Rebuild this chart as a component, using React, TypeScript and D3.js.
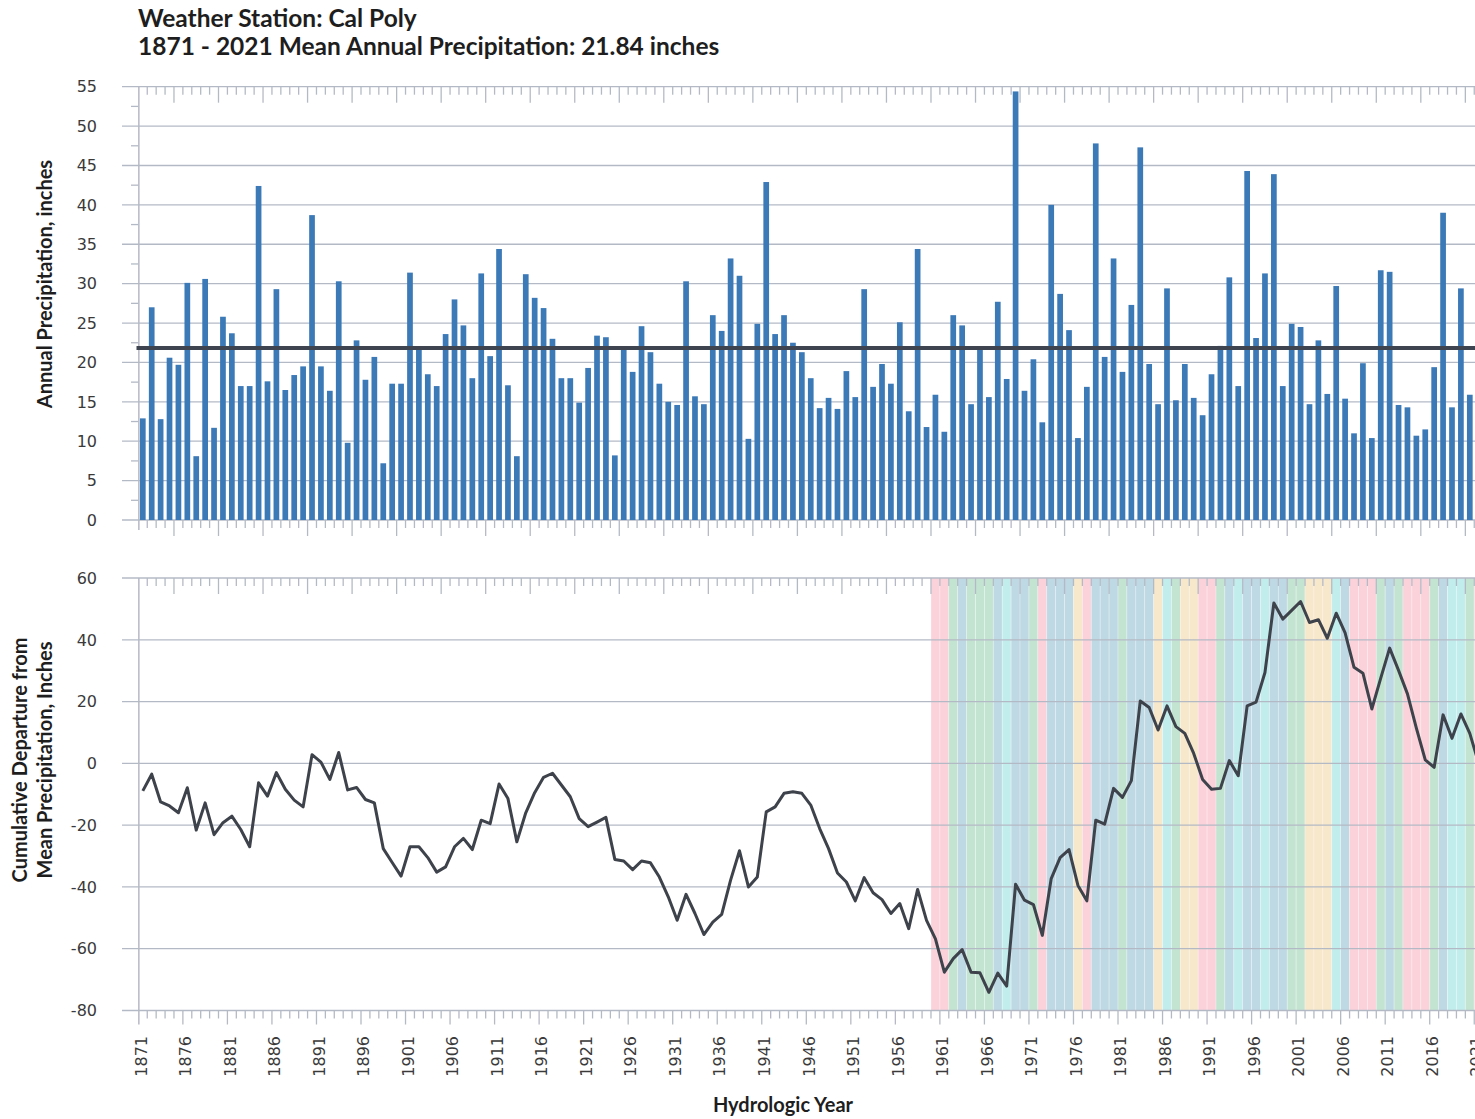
import React from 'react'
import * as d3 from 'd3'

// ===== data =====
const years: number[] = d3.range(1871, 2022)

// annual precipitation, inches (hydrologic year)
const precip: number[] = [
  12.9, 27.0, 12.8, 20.6, 19.7, 30.1, 8.1, 30.6, 11.7, 25.8,
  23.7, 17.0, 17.0, 42.4, 17.6, 29.3, 16.5, 18.4, 19.5, 38.7,
  19.5, 16.4, 30.3, 9.8, 22.8, 17.8, 20.7, 7.2, 17.3, 17.3,
  31.4, 21.8, 18.5, 17.0, 23.6, 28.0, 24.7, 18.0, 31.3, 20.8,
  34.4, 17.1, 8.1, 31.2, 28.2, 26.9, 23.0, 18.0, 18.0, 14.9,
  19.3, 23.4, 23.2, 8.2, 21.7, 18.8, 24.6, 21.3, 17.3, 15.0,
  14.6, 30.3, 15.7, 14.7, 26.0, 24.0, 33.2, 31.0, 10.3, 24.9,
  42.9, 23.6, 26.0, 22.5, 21.3, 18.0, 14.2, 15.5, 14.1, 18.9,
  15.6, 29.3, 16.9, 19.8, 17.3, 25.1, 13.8, 34.4, 11.8, 15.9,
  11.2, 26.0, 24.7, 14.7, 21.7, 15.6, 27.7, 17.9, 54.4, 16.4,
  20.4, 12.4, 40.0, 28.7, 24.1, 10.4, 16.9, 47.8, 20.7, 33.2,
  18.8, 27.3, 47.3, 19.8, 14.7, 29.4, 15.2, 19.8, 15.5, 13.3,
  18.5, 22.1, 30.8, 17.0, 44.3, 23.1, 31.3, 43.9, 17.0, 24.9,
  24.5, 14.7, 22.8, 16.0, 29.7, 15.4, 11.0, 19.9, 10.4, 31.7,
  31.5, 14.6, 14.3, 10.7, 11.5, 19.4, 39.0, 14.3, 29.4, 15.9,
  12.1,
]

// cumulative departure from mean, inches
const cumDeparture: number[] = [
  -8.9, -3.5, -12.5, -13.8, -16.0, -7.9, -21.6, -12.8, -23.1, -19.2,
  -17.1, -21.4, -27.0, -6.3, -10.6, -3.0, -8.4, -11.9, -14.1, 2.8,
  0.4, -5.2, 3.5, -8.6, -7.8, -11.7, -12.8, -27.6, -32.1, -36.5,
  -27.0, -27.0, -30.5, -35.2, -33.5, -27.0, -24.3, -27.9, -18.4, -19.5,
  -6.7, -11.4, -25.4, -16.0, -9.5, -4.5, -3.2, -7.0, -10.8, -17.9,
  -20.5, -19.0, -17.5, -31.1, -31.6, -34.4, -31.6, -32.2, -36.8, -43.2,
  -50.8, -42.4, -48.6, -55.4, -51.4, -48.9, -37.8, -28.3, -40.0, -36.8,
  -15.7, -14.1, -9.7, -9.2, -9.7, -13.5, -21.1, -27.6, -35.5, -38.4,
  -44.5, -37.0, -41.9, -44.1, -48.6, -45.4, -53.5, -40.8, -50.8, -56.8,
  -67.6, -63.2, -60.3, -67.6, -67.8, -74.1, -67.9, -72.1, -39.1, -44.3,
  -45.7, -55.7, -37.3, -30.5, -27.9, -39.5, -44.5, -18.4, -19.7, -8.1,
  -11.0, -5.6, 20.2, 18.1, 10.8, 18.6, 11.9, 9.7, 3.2, -5.2,
  -8.4, -8.1, 0.9, -4.0, 18.6, 19.8, 29.4, 51.9, 46.7, 49.5,
  52.4, 45.6, 46.5, 40.5, 48.6, 42.2, 31.1, 29.2, 17.6, 27.6,
  37.3, 30.1, 22.5, 11.4, 1.1, -1.3, 15.7, 8.1, 16.0, 9.7,
  0.0,
]

const meanPrecip = 21.84

// background classes from 1960 on
const bandStart = 1960
const bandClass: string[] = [
  'P', 'P', 'G', 'B', 'G', 'G', 'G', 'B', 'C', 'B',
  'B', 'G', 'P', 'B', 'B', 'B', 'Y', 'P', 'B', 'B',
  'B', 'G', 'B', 'B', 'B', 'Y', 'C', 'G', 'Y', 'Y',
  'P', 'P', 'G', 'B', 'C', 'B', 'B', 'C', 'B', 'B',
  'G', 'G', 'Y', 'Y', 'Y', 'C', 'B', 'P', 'P', 'P',
  'G', 'B', 'G', 'P', 'P', 'P', 'G', 'B', 'C', 'C',
  'G', 'P',
]
const bandColor: Record<string, string> = {
  P: '#fbd2da',
  G: '#c4e4d2',
  B: '#bed8e4',
  C: '#c2eded',
  Y: '#f7e7cb',
}

const topTicks = d3.range(0, 56, 5)
const bottomTicks = d3.range(-80, 61, 20)

// ===== layout =====
const W = 1475
const H = 1119
const X0 = 138.35
const STEP = 8.906
const X1 = X0 + STEP * years.length

const gridColor = '#b4bac5'
const labelFont = '"DejaVu Sans", Verdana, sans-serif'
const titleFont = 'Lato, "Open Sans", sans-serif'

export default function App() {
  const xStep = d3.scaleBand<number>().domain(years).range([X0, X1])
  const xBar = d3.scaleBand<number>().domain(years).range([X0, X1])
    .paddingInner(0.36).paddingOuter(0.18)
  const cx = (y: number) => (xStep(y) as number) + xStep.bandwidth() / 2

  const yTop = d3.scaleLinear().domain([0, 55]).range([520, 86.7])
  const yBot = d3.scaleLinear().domain([-80, 60]).range([1010.5, 578])

  const boundaries = years.map(y => xStep(y) as number).concat([X1])

  const line = d3.line<number>()
    .x((_, i) => cx(years[i]))
    .y(d => yBot(d))

  // ticks hanging down from a horizontal line
  const edgeTicks = (y0: number, majorMod: number, key: string, majorLen = 16) =>
    boundaries.map((bx, i) => i === 0 ? null : (
      <line key={key + i} x1={bx} x2={bx} y1={y0} y2={y0 + (i % 5 === majorMod ? majorLen : 8)}
        stroke={gridColor} strokeWidth={1.3} />
    ))

  return (
    <svg width={W} height={H} viewBox={`0 0 ${W} ${H}`}
      style={{ position: 'absolute', left: 0, top: 0, background: '#fff' }}>

      {/* titles */}
      <g fontFamily={titleFont} fontWeight={700} fill="#1e1e1e" fontSize={24.5}>
        <text x={138} y={27}>Weather Station: Cal Poly</text>
        <text x={138} y={55}>1871 - 2021 Mean Annual Precipitation: 21.84 inches</text>
      </g>

      {/* ===== top chart ===== */}
      <g>
        {topTicks.map(t => (
          <line key={'tg' + t} x1={122} x2={X1} y1={yTop(t)} y2={yTop(t)} stroke={gridColor} strokeWidth={1.3} />
        ))}
        {topTicks.slice(0, -1).map(t => (
          <line key={'tm' + t} x1={131} x2={X0} y1={yTop(t + 2.5)} y2={yTop(t + 2.5)} stroke={gridColor} strokeWidth={1.3} />
        ))}
        {edgeTicks(yTop(55), 4, 'tt')}
        {edgeTicks(yTop(0), 4, 'tb')}
        <line x1={X0 + 0.5} x2={X0 + 0.5} y1={yTop(55)} y2={yTop(0) + 10} stroke={gridColor} strokeWidth={1.5} />

        {years.map((y, i) => (
          <rect key={'b' + y} x={xBar(y)} width={xBar.bandwidth()}
            y={yTop(precip[i])} height={yTop(0) - yTop(precip[i])} fill="#3b79b7" />
        ))}
        <line x1={136.5} x2={X1} y1={yTop(meanPrecip)} y2={yTop(meanPrecip)} stroke="#3f4550" strokeWidth={4} />

        <g fontFamily={labelFont} fontSize={16} fill="#3a3a3a" textAnchor="end">
          {topTicks.map(t => (
            <text key={'tl' + t} x={97} y={yTop(t)} dy="0.36em">{t}</text>
          ))}
        </g>
        <text transform={`translate(52,284) rotate(-90)`} textAnchor="middle"
          fontFamily={titleFont} fontWeight={700} fontSize={20} fill="#1e1e1e">
          Annual Precipitation, inches
        </text>
      </g>

      {/* ===== bottom chart ===== */}
      <g>
        {years.map(y => {
          if (y < bandStart) return null
          const c = bandClass[y - bandStart]
          return (
            <rect key={'bg' + y} x={xStep(y)} width={xStep.bandwidth()}
              y={yBot(60)} height={yBot(-80) - yBot(60)} fill={bandColor[c]}
              stroke="#ffffff" strokeOpacity={0.35} strokeWidth={0.8} />
          )
        })}
        {bottomTicks.map(t => (
          <line key={'bg' + t} x1={122} x2={X1} y1={yBot(t)} y2={yBot(t)} stroke={gridColor} strokeWidth={1.3} />
        ))}
        {edgeTicks(yBot(60), 4, 'bt')}
        {edgeTicks(yBot(-80), 0, 'bb', 14)}
        <line x1={X0 + 0.5} x2={X0 + 0.5} y1={yBot(60)} y2={yBot(-80) + 14} stroke={gridColor} strokeWidth={1.5} />

        <path d={line(cumDeparture) || ''} fill="none" stroke="#3d424b" strokeWidth={3} strokeLinejoin="round" />

        <g fontFamily={labelFont} fontSize={16} fill="#3a3a3a" textAnchor="end">
          {bottomTicks.map(t => (
            <text key={'bl' + t} x={97} y={yBot(t)} dy="0.36em">{t}</text>
          ))}
        </g>
        <g fontFamily={labelFont} fontSize={16} fill="#3a3a3a">
          {years.filter((_, i) => i % 5 === 0).map(y => (
            <text key={'xl' + y} transform={`translate(${cx(y) - 2},1036) rotate(-90)`}
              textAnchor="end" dy="0.36em">{y}</text>
          ))}
        </g>
        <g fontFamily={titleFont} fontWeight={700} fontSize={20} fill="#1e1e1e" textAnchor="middle">
          <text transform={`translate(27,760) rotate(-90)`}>Cumulative Departure from</text>
          <text transform={`translate(52,760) rotate(-90)`}>Mean Precipitation, Inches</text>
          <text x={783} y={1112}>Hydrologic Year</text>
        </g>
      </g>
    </svg>
  )
}
